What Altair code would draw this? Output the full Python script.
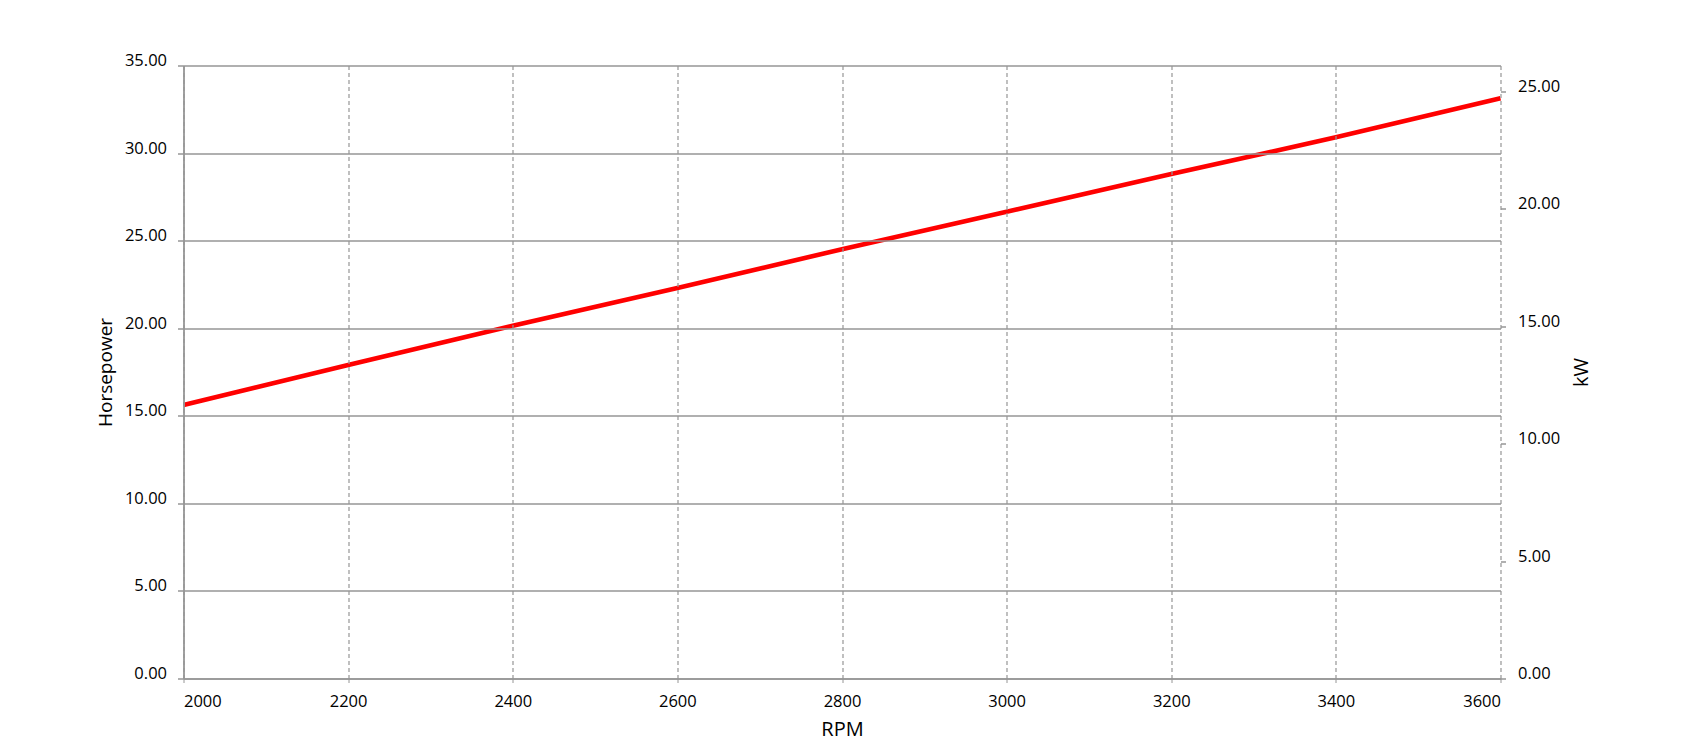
import altair as alt
import pandas as pd

rpm = [2000, 2200, 2400, 2600, 2800, 3000, 3200, 3400, 3600]
hp = [15.61, 17.90, 20.14, 22.30, 24.51, 26.65, 28.80, 30.90, 33.13]
x_ticks = [2000, 2200, 2400, 2600, 2800, 3000, 3200, 3400, 3600]
hp_ticks = [0, 5, 10, 15, 20, 25, 30, 35]
kw_ticks = [0, 5, 10, 15, 20, 25]
HP_TO_KW = 0.7457

df = pd.DataFrame({"RPM": rpm, "HP": hp})

FONT = "Open Sans"
GRID = "#969696"
TXT = "#000000"

x_enc = alt.X(
    "RPM:Q",
    scale=alt.Scale(domain=[2000, 3600], nice=False, zero=False),
    axis=alt.Axis(
        title="RPM", values=x_ticks, format="d",
        grid=True, gridColor=GRID, gridDash=[4, 3], gridWidth=1.2,
        domain=True, domainColor=GRID, domainWidth=1.5,
        ticks=True, tickColor=GRID, tickSize=6, tickDash=[4, 3],
        labelFont=FONT, labelFontSize=16.5, labelColor=TXT, labelPadding=8.5,
        titleFont=FONT, titleFontSize=20, titleFontWeight="normal", titleColor=TXT,
        titleBaseline="alphabetic", titleY=56.6, zindex=1,
    ),
)

hp_line = alt.Chart(df).mark_line(color="#ff0000", strokeWidth=4.6).encode(
    x=x_enc,
    y=alt.Y(
        "HP:Q",
        scale=alt.Scale(domain=[0, 35], nice=False),
        axis=alt.Axis(
            orient="left", title="Horsepower", values=hp_ticks, format=".2f",
            grid=True, gridColor=GRID, gridWidth=1.5,
            domain=True, domainColor=GRID, domainWidth=1.8,
            ticks=True, tickColor=GRID, tickSize=6, tickWidth=1.5,
            labelFont=FONT, labelFontSize=16.5, labelColor=TXT, labelPadding=11,
            labelBaseline="alphabetic",
            titleFont=FONT, titleFontSize=19, titleFontWeight="normal", titleColor=TXT,
            titleBaseline="alphabetic", titleX=-71.8, titleAngle=270, zindex=1,
        ),
    ),
)

kw_line = alt.Chart(df).transform_calculate(
    kW=f"datum.HP * {HP_TO_KW}"
).mark_line(strokeOpacity=0).encode(
    x=alt.X("RPM:Q"),
    y=alt.Y(
        "kW:Q",
        scale=alt.Scale(domain=[0, 35 * HP_TO_KW], nice=False),
        axis=alt.Axis(
            orient="right", title="kW", values=kw_ticks, format=".2f",
            grid=False, domain=False,
            ticks=True, tickColor=GRID, tickSize=5, tickWidth=1.5,
            labelFont=FONT, labelFontSize=16.5, labelColor=TXT, labelPadding=12,
            labelBaseline="alphabetic",
            titleFont=FONT, titleFontSize=20, titleFontWeight="normal", titleColor=TXT,
            titleBaseline="alphabetic", titleX=86.7, titleAngle=270,
        ),
    ),
)

chart = alt.layer(hp_line, kw_line).resolve_scale(y="independent").properties(
    width=1317,
    height=613,
    autosize=alt.AutoSizeParams(type="none"),
    padding={"left": 175.5, "top": 57.5, "right": 174.5, "bottom": 68.5},
    background="white",
).configure_view(stroke=None)

chart.save("out.html", embed_options={"renderer": "svg", "actions": False})
